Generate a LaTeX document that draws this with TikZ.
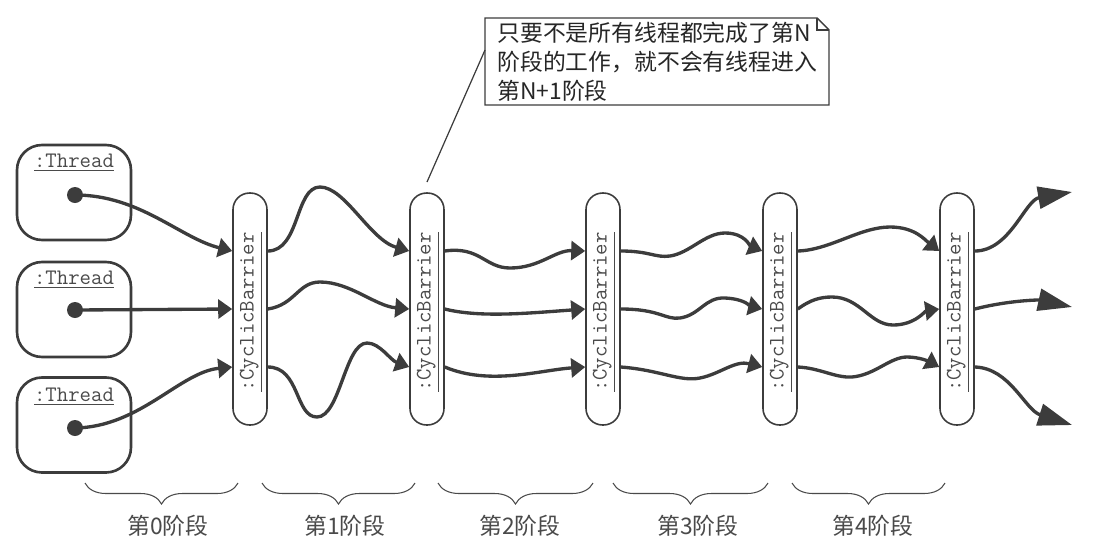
\documentclass[tikz,border=0pt]{standalone}
\usepackage{fontspec}
\newfontfamily\cjk{Noto Sans CJK SC}
\usetikzlibrary{arrows.meta,decorations.pathreplacing}
\definecolor{ink}{HTML}{3C3C3C}
\definecolor{txt}{HTML}{4A4A4A}
\tikzset{
  threadbox/.style={draw=ink,line width=1.5pt,rounded corners=0.5cm,minimum width=2.28cm,minimum height=1.9cm},
  barrier/.style={draw=ink,line width=0.9pt,rounded corners=0.33cm,minimum width=0.68cm,minimum height=4.64cm},
  tlabel/.style={font=\fontsize{12.6}{14}\selectfont\ttfamily,text=txt,inner sep=0pt},
  blabel/.style={font=\fontsize{12.6}{14}\selectfont\ttfamily,text=txt,inner sep=0pt,rotate=90},
  dot/.style={circle,fill=ink,minimum size=0.32cm,inner sep=0pt},
  flow/.style={draw=ink,line width=1.9pt,-{Triangle[length=0.28cm,width=0.38cm]}},
  outflow/.style={draw=ink,line width=1.9pt,-{Triangle[length=0.68cm,width=0.44cm]}},
  stagebrace/.style={draw=txt,line width=0.6pt,decorate,decoration={brace,amplitude=0.42cm,aspect=0.5}},
  stagelabel/.style={font=\fontsize{13}{15}\selectfont\cjk,text=txt,inner sep=0pt},
  notetext/.style={font=\fontsize{13}{16.5}\selectfont\cjk,text=black!85,align=left,inner sep=0pt,anchor=north west}
}
\begin{document}
\begin{tikzpicture}[x=0.02cm,y=0.02cm]
\useasboundingbox (0,0) rectangle (1098,-552);
% thread boxes
\node[threadbox] (t1) at (74,-192.5) {};
\node[threadbox] (t2) at (74,-309.5) {};
\node[threadbox] (t3) at (74,-425) {};
\node[tlabel] (tl1) at (74,-163) {\underline{:Thread}};
\node[tlabel] (tl2) at (74,-280) {\underline{:Thread}};
\node[tlabel] (tl3) at (74,-397) {\underline{:Thread}};
\node[dot] (d1) at (75,-195) {};
\node[dot] (d2) at (75,-310) {};
\node[dot] (d3) at (75,-428) {};
% barriers
\foreach \i/\x in {1/250,2/427,3/603,4/780,5/957}{
  \node[barrier] (b\i) at (\x,-309) {};
  \node[blabel] (bl\i) at (\x+1,-312) {\underline{:CyclicBarrier}};
  \path (b\i.west) ++(0,58) coordinate (b\i i1);
  \path (b\i.west) coordinate (b\i i2);
  \path (b\i.west) ++(0,-58) coordinate (b\i i3);
  \path (b\i.east) ++(0,58) coordinate (b\i o1);
  \path (b\i.east) coordinate (b\i o2);
  \path (b\i.east) ++(0,-58) coordinate (b\i o3);
}
% stage 0
\draw[flow] (d1.center) .. controls (140,-195) and (180,-238) .. (b1i1);
\draw[flow] (d2.center) -- (b1i2);
\draw[flow] (d3.center) .. controls (140,-427) and (180,-372) .. (b1i3);
% stage 1
\draw[flow] (b1o1) .. controls (300,-251) and (295,-187) .. (320,-187) .. controls (345,-187) and (370,-240) .. (b2i1);
\draw[flow] (b1o2) .. controls (295,-305) and (298,-282) .. (320,-282) .. controls (350,-282) and (375,-306) .. (b2i2);
\draw[flow] (b1o3) .. controls (300,-367) and (295,-417) .. (317,-417) .. controls (340,-417) and (345,-343) .. (367,-343) .. controls (380,-343) and (390,-360) .. (b2i3);
% stage 2
\draw[flow] (b2o1) .. controls (480,-246) and (485,-268) .. (510,-268) .. controls (540,-268) and (555,-250) .. (b3i1);
\draw[flow] (b2o2) .. controls (480,-318) and (530,-313) .. (b3i2);
\draw[flow] (b2o3) .. controls (490,-386) and (540,-370) .. (b3i3);
% stage 3
\draw[flow] (b3o1) .. controls (650,-251) and (655,-258) .. (670,-256) .. controls (690,-253) and (705,-233) .. (725,-233) .. controls (745,-233) and (750,-246) .. (b4i1);
\draw[flow] (b3o2) .. controls (660,-309) and (665,-320) .. (680,-318) .. controls (700,-315) and (705,-297) .. (725,-298) .. controls (745,-299) and (750,-306) .. (b4i2);
\draw[flow] (b3o3) .. controls (660,-370) and (680,-382) .. (700,-378) .. controls (720,-374) and (735,-360) .. (b4i3);
% stage 4
\draw[flow] (b4o1) .. controls (830,-250) and (860,-227) .. (890,-227) .. controls (915,-227) and (925,-240) .. (b5i1);
\draw[flow] (b4o2) .. controls (810,-300) and (820,-297) .. (832,-297) .. controls (860,-297) and (870,-325) .. (893,-325) .. controls (915,-325) and (925,-311) .. (b5i2);
\draw[flow] (b4o3) .. controls (820,-368) and (835,-378) .. (852,-377) .. controls (875,-375) and (890,-357) .. (907,-357) .. controls (920,-357) and (930,-362) .. (b5i3);
% out
\coordinate (e1) at (1072,-192);
\coordinate (e2) at (1072,-307);
\coordinate (e3) at (1072,-425);
\draw[outflow] (b5o1) .. controls (1010,-251) and (1025,-200) .. (e1);
\draw[outflow] (b5o2) .. controls (1010,-300) and (1040,-300) .. (e2);
\draw[outflow] (b5o3) .. controls (1010,-368) and (1025,-410) .. (e3);
% note
\node[notetext] (note) at (497,-22) {只要不是所有线程都完成了第N\\阶段的工作，就不会有线程进入\\第N+1阶段};
\coordinate (nw) at (485,-18);
\coordinate (nf1) at (817,-18);
\coordinate (nf2) at (829,-30);
\coordinate (ns) at (485,-105);
\draw[ink,line width=0.8pt] (nw) -- (nf1) -- (nf2) |- (ns) -- cycle;
\draw[ink,line width=0.6pt] (nf1) |- (nf2);
\coordinate (pt) at (427,-182);
\coordinate (pe) at (485,-50);
\draw[ink,line width=0.7pt] (pt) -- (pe);
% braces
\foreach \a/\b/\c/\n in {85/238/168/0,262/415/345/1,438/593/520/2,613/768/698/3,792/945/873/4}{
  \draw[stagebrace] (\b,-483) -- (\a,-483);
  \node[stagelabel] (s\n) at (\c,-526) {第\n 阶段};
}
\end{tikzpicture}
\end{document}
